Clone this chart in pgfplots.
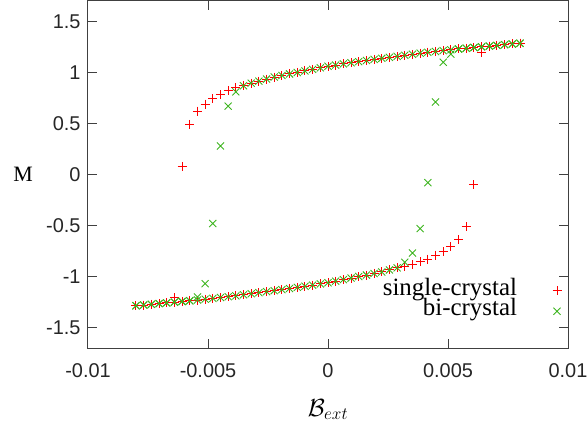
\documentclass[border=0pt]{standalone}
\usepackage{fontspec}
\setmainfont{Liberation Serif}
\setsansfont{Liberation Sans}
\usepackage{pgfplots}
\usepackage{pgfplotstable}
\pgfplotsset{compat=1.18}

\definecolor{scred}{RGB}{255,0,0}
\definecolor{bcgreen}{RGB}{60,180,30}

% field sweep from +B down to -B: x, single-crystal, bi-crystal
\pgfplotstableread{
x r g
-0.008 -1.286 -1.286
-0.00768 -1.279 -1.279
-0.00736 -1.272 -1.272
-0.00704 -1.265 -1.265
-0.00672 -1.258 -1.258
-0.0064 -1.21 -1.251
-0.00608 0.08 -1.244
-0.00576 0.49 -1.237
-0.00544 0.62 -1.20
-0.00512 0.69 -1.07
-0.0048 0.74 -0.48
-0.00448 0.78 0.28
-0.00416 0.82 0.67
-0.00384 0.85 0.81
-0.00352 0.87 0.87
-0.0032 0.895 0.895
-0.00288 0.915 0.915
-0.00256 0.935 0.935
-0.00224 0.955 0.955
-0.00192 0.97 0.97
-0.0016 0.985 0.985
-0.00128 1.0 1.0
-0.00096 1.015 1.015
-0.00064 1.03 1.03
-0.00032 1.045 1.045
0 1.06 1.06
0.00032 1.072 1.072
0.00064 1.084 1.084
0.00096 1.095 1.095
0.00128 1.106 1.106
0.0016 1.117 1.117
0.00192 1.128 1.128
0.00224 1.138 1.138
0.00256 1.148 1.148
0.00288 1.158 1.158
0.0032 1.168 1.168
0.00352 1.178 1.178
0.00384 1.189 1.189
0.00416 1.198 1.198
0.00448 1.206 1.206
0.0048 1.214 1.214
0.00512 1.222 1.222
0.00544 1.23 1.23
0.00576 1.237 1.237
0.00608 1.244 1.244
0.0064 1.251 1.251
0.00672 1.258 1.258
0.00704 1.265 1.265
0.00736 1.272 1.272
0.00768 1.279 1.279
0.008 1.286 1.286
}\downsweep

% field sweep from -B up to +B
\pgfplotstableread{
x r g
-0.008 -1.286 -1.286
-0.00768 -1.279 -1.279
-0.00736 -1.272 -1.272
-0.00704 -1.265 -1.265
-0.00672 -1.258 -1.258
-0.0064 -1.251 -1.251
-0.00608 -1.244 -1.244
-0.00576 -1.237 -1.237
-0.00544 -1.23 -1.23
-0.00512 -1.222 -1.222
-0.0048 -1.214 -1.214
-0.00448 -1.206 -1.206
-0.00416 -1.198 -1.198
-0.00384 -1.189 -1.189
-0.00352 -1.178 -1.178
-0.0032 -1.168 -1.168
-0.00288 -1.158 -1.158
-0.00256 -1.148 -1.148
-0.00224 -1.138 -1.138
-0.00192 -1.128 -1.128
-0.0016 -1.117 -1.117
-0.00128 -1.106 -1.106
-0.00096 -1.095 -1.095
-0.00064 -1.084 -1.084
-0.00032 -1.072 -1.072
0 -1.06 -1.06
0.00032 -1.045 -1.045
0.00064 -1.03 -1.03
0.00096 -1.015 -1.015
0.00128 -1.0 -1.0
0.0016 -0.985 -0.985
0.00192 -0.97 -0.97
0.00224 -0.955 -0.955
0.00256 -0.935 -0.935
0.00288 -0.915 -0.915
0.0032 -0.905 -0.86
0.00352 -0.885 -0.77
0.00384 -0.855 -0.53
0.00416 -0.83 -0.08
0.00448 -0.79 0.71
0.0048 -0.755 1.10
0.00512 -0.71 1.18
0.00544 -0.64 1.23
0.00576 -0.51 1.237
0.00608 -0.10 1.244
0.0064 1.20 1.251
0.00672 1.258 1.258
0.00704 1.265 1.265
0.00736 1.272 1.272
0.00768 1.279 1.279
0.008 1.286 1.286
}\upsweep

\begin{document}
\begin{tikzpicture}
\useasboundingbox (-88bp,-74bp) rectangle (500bp,348bp);
\begin{axis}[
  scale only axis, width=480bp, height=347bp,
  xmin=-0.01, xmax=0.01, ymin=-1.7, ymax=1.7,
  xtick={-0.01,-0.005,0,0.005,0.01},
  xticklabels={-0.01,-0.005,0,0.005,0.01},
  ytick={-1.5,-1,-0.5,0,0.5,1,1.5},
  yticklabels={-1.5,-1,-0.5,0,0.5,1,1.5},
  scaled x ticks=false,
  tick align=inside,
  major tick length=9bp,
  axis line style={black!75, line width=1bp},
  tick style={black!75, line width=1bp},
  ticklabel style={font=\fontsize{20}{24}\sffamily, text=black!85},
  xticklabel style={yshift=-12bp},
  yticklabel style={xshift=-4bp},
  xlabel={$\mathcal{B}_{ext}$},
  ylabel={M},
  every axis x label/.style={at={(axis description cs:0.5,0)}, anchor=base, yshift=-68bp, font=\fontsize{24}{28}\selectfont},
  every axis y label/.style={at={(axis description cs:0,0.5)}, anchor=center, xshift=-65bp, font=\fontsize{22}{24}\selectfont},
  legend plot pos=right,
  legend cell align=right,
  legend image code/.code={%
    \path[draw=none] (0bp,0bp) -- (46bp,0bp);
    \draw[#1] plot coordinates {(40bp,0bp)};},
  legend style={at={(rel axis cs:0.99,0.195)}, anchor=north east, draw=none, fill=none, inner sep=0pt,
    font=\fontsize{25}{25}\selectfont, nodes={inner sep=0pt, text height=14.5bp, text depth=6bp}},
]
\addplot[only marks, mark=+, mark size=4.5bp, scred, line width=1bp] table[x=x, y=r] {\downsweep};
\addlegendentry{single-crystal}
\addplot[only marks, mark=+, mark size=4.5bp, scred, line width=1bp, forget plot] table[x=x, y=r] {\upsweep};
\addplot[only marks, mark=x, mark size=5bp, bcgreen, line width=0.9bp] table[x=x, y=g] {\downsweep};
\addlegendentry{bi-crystal}
\addplot[only marks, mark=x, mark size=5bp, bcgreen, line width=0.9bp, forget plot] table[x=x, y=g] {\upsweep};
\end{axis}
\end{tikzpicture}
\end{document}
